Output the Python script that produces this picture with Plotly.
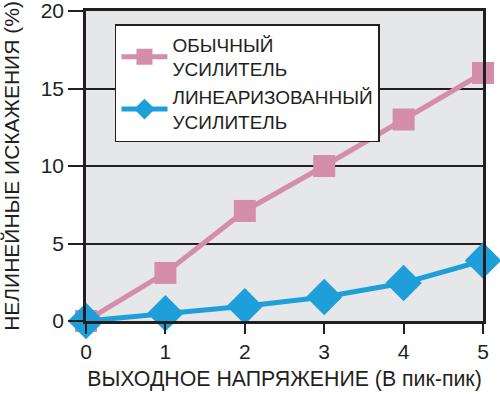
import plotly.graph_objects as go

x_vals = [0, 1, 2, 3, 4, 5]
ordinary = [0, 3.1, 7.1, 10, 13, 16]
linearized = [0, 0.5, 0.95, 1.55, 2.45, 3.9]
names = ["ОБЫЧНЫЙ<br>УСИЛИТЕЛЬ", "ЛИНЕАРИЗОВАННЫЙ<br>УСИЛИТЕЛЬ"]
x_title = "ВЫХОДНОЕ НАПРЯЖЕНИЕ (В пик-пик)"
y_title = "НЕЛИНЕЙНЫЕ ИСКАЖЕНИЯ (%)"

pink = "#D48EAA"
blue = "#1E9FD9"
dark = "#231F20"

fig = go.Figure()
fig.add_trace(go.Scatter(
    x=x_vals, y=ordinary, name=names[0], mode="lines+markers",
    line=dict(color=pink, width=5),
    marker=dict(symbol="square", size=22, color=pink),
    cliponaxis=False,
))
fig.add_trace(go.Scatter(
    x=x_vals, y=linearized, name=names[1], mode="lines+markers",
    line=dict(color=blue, width=5),
    marker=dict(symbol="diamond", size=28, color=blue),
    cliponaxis=False,
))

font = dict(family="Liberation Sans, Arial, sans-serif", color=dark)
fig.update_layout(
    width=500, height=394,
    margin=dict(l=86, r=17, t=11, b=73, autoexpand=False),
    paper_bgcolor="white",
    plot_bgcolor="#E6E7E8",
    font=dict(**font, size=19),
    showlegend=True,
    legend=dict(
        x=0.073, y=0.958, xanchor="left", yanchor="top",
        bgcolor="white", bordercolor=dark, borderwidth=1.5,
        font=dict(**font, size=19),
        tracegroupgap=0, itemwidth=46,
    ),
    xaxis=dict(
        range=[0, 5], tickvals=x_vals, showgrid=False, zeroline=False,
        showline=True, linecolor=dark, linewidth=2.5, mirror=True,
        ticks="outside", ticklen=10, tickwidth=2, tickcolor=dark,
        tickfont=dict(**font, size=21), automargin=False,
        ticklabeloverflow="allow",
        title=dict(text=x_title, font=dict(**font, size=21.3), standoff=10),
    ),
    yaxis=dict(
        range=[0, 20], tickvals=[0, 5, 10, 15, 20], showgrid=True,
        gridcolor=dark, gridwidth=1.5, zeroline=False,
        showline=True, linecolor=dark, linewidth=2.5, mirror=True,
        ticks="outside", ticklen=15, tickwidth=2, tickcolor=dark,
        tickfont=dict(**font, size=21), automargin=True,
        ticklabeloverflow="allow",
        title=dict(text=y_title, font=dict(**font, size=21), standoff=16),
    ),
)

fig.write_html(
    "out.html",
    config={"displayModeBar": False},
    post_script="document.body.style.margin='0';document.body.style.overflow='hidden';",
)
